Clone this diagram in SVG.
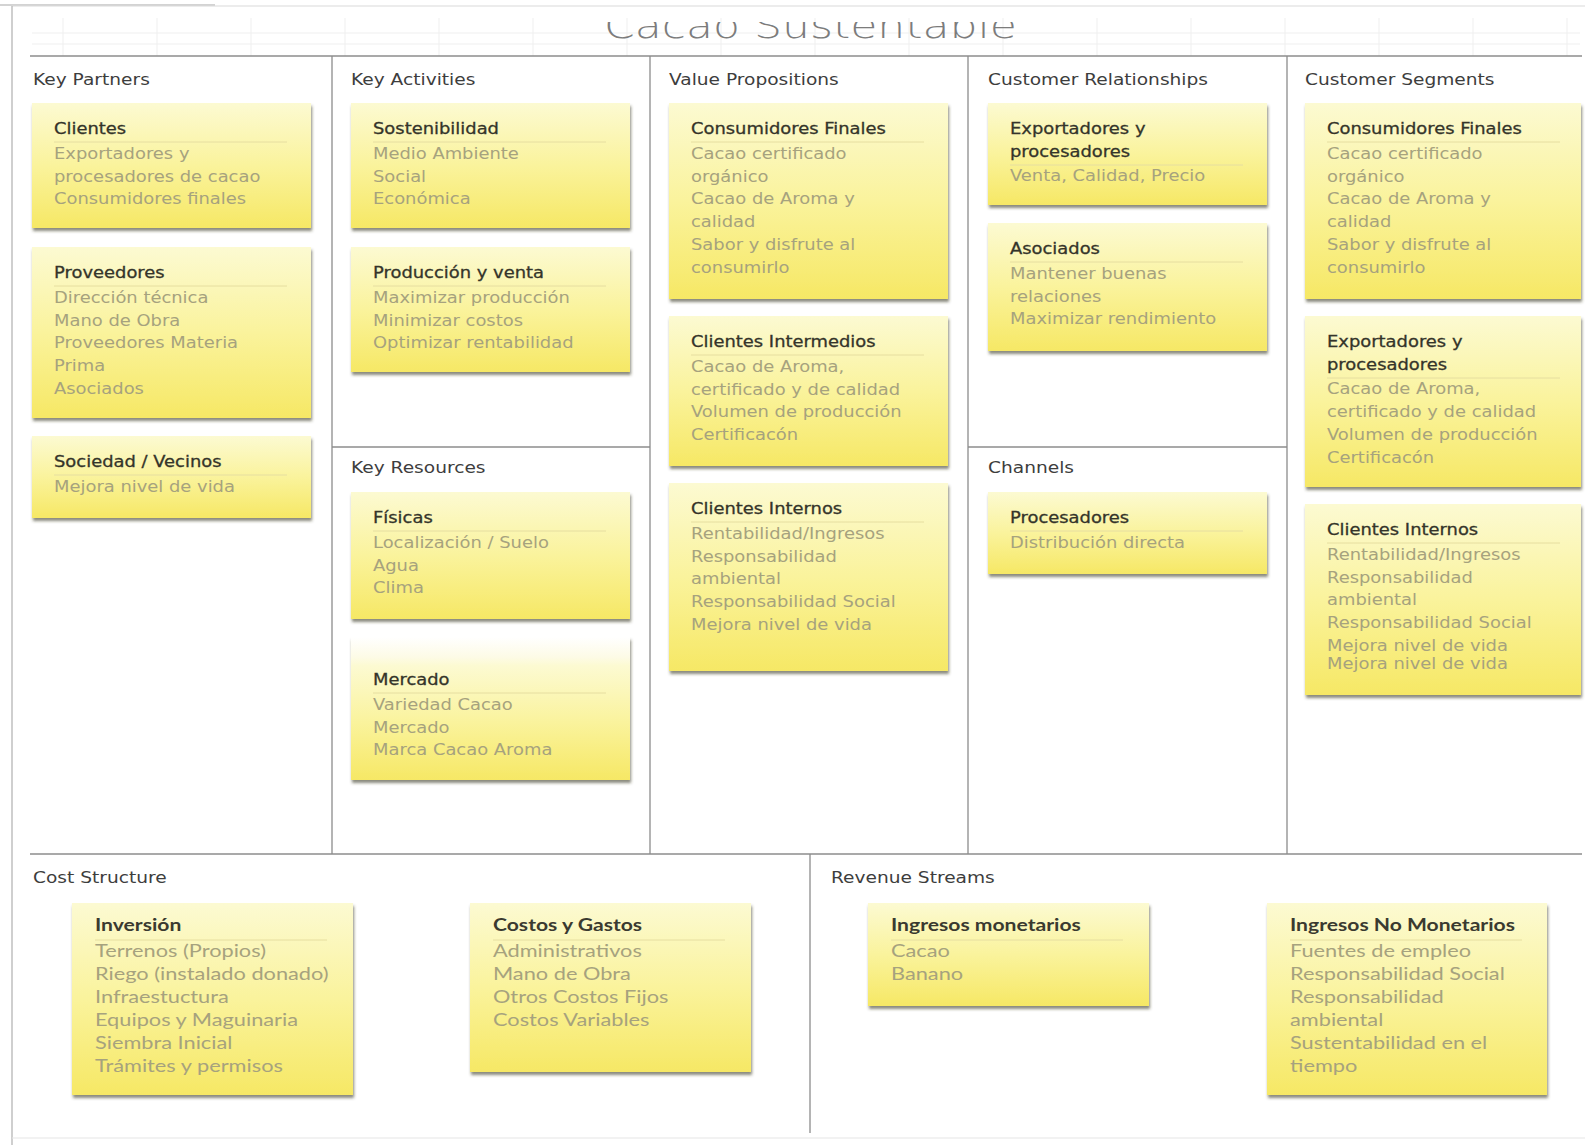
<svg xmlns="http://www.w3.org/2000/svg" width="1585" height="1145" viewBox="0 0 1585 1145">
<defs>
<linearGradient id="gy" x1="0" y1="0" x2="0" y2="1">
<stop offset="0" stop-color="#fcfad2"/>
<stop offset="0.5" stop-color="#faf39c"/>
<stop offset="1" stop-color="#f6e865"/>
</linearGradient>
<linearGradient id="gm" x1="0" y1="0" x2="0" y2="1">
<stop offset="0" stop-color="#ffffff"/>
<stop offset="0.14" stop-color="#fdfbe6"/>
<stop offset="0.2" stop-color="#fcfad2"/>
<stop offset="0.6" stop-color="#faf39c"/>
<stop offset="1" stop-color="#f6e865"/>
</linearGradient>
<filter id="sh" x="-5%" y="-5%" width="110%" height="115%">
<feDropShadow dx="1" dy="3" stdDeviation="1.4" flood-color="#3c3a28" flood-opacity="0.6"/>
</filter>
<clipPath id="tclip"><rect x="0" y="22" width="1585" height="34"/></clipPath>
<style>
.note{fill:url(#gy);filter:url(#sh);}
.sep{stroke:#e6dea0;stroke-width:1;}
.grid{stroke:#8c8c8c;stroke-width:1.3;fill:none;}
.faint{stroke:#efefef;stroke-width:1;fill:none;}
.lbl{font-family:"DejaVu Sans",sans-serif;font-size:15.5px;fill:#3d3d3d;}
.h{font-family:"DejaVu Sans",sans-serif;font-size:16px;fill:#34342a;stroke:#34342a;stroke-width:0.3;}
.b{font-family:"DejaVu Sans",sans-serif;font-size:16px;fill:#a6a27e;}
.hl{font-family:Lato,"Liberation Sans",sans-serif;font-size:16.5px;font-weight:700;fill:#3a3a30;}
.bl{font-family:Lato,"Liberation Sans",sans-serif;font-size:17px;fill:#a6a27e;}
.title{font-family:"DejaVu Sans",sans-serif;font-weight:200;font-size:35px;fill:#7c7c7c;}
</style>
</defs>
<rect width="1585" height="1145" fill="#ffffff"/>

<g id="frame">
<line x1="0" y1="5" x2="215" y2="5" stroke="#c4c4c4" stroke-width="1.5"/>
<line x1="12" y1="6" x2="1585" y2="6" stroke="#dadada" stroke-width="1.2"/>
<line x1="12" y1="6" x2="12" y2="1145" stroke="#b5b5b5" stroke-width="1.3"/>
<line x1="12" y1="1138" x2="1585" y2="1138" stroke="#e6e6e6" stroke-width="1.2"/>
<g class="faint">
<line x1="32" y1="33" x2="1580" y2="33"/>
<line x1="32" y1="44" x2="1580" y2="44"/>
<path d="M63 18V56M157 18V56M251 18V56M345 18V56M439 18V56M533 18V56M627 18V56M721 18V56M815 18V56M909 18V56M1003 18V56M1097 18V56M1191 18V56M1285 18V56M1379 18V56M1473 18V56M1567 18V56"/>
</g>
<g clip-path="url(#tclip)">
<text class="title" x="604" y="38" textLength="413" lengthAdjust="spacingAndGlyphs">Cacao Sustentable</text>
</g>
</g>

<g id="connectors" class="grid">
<line x1="30" y1="56" x2="1582" y2="56"/>
<line x1="30" y1="854" x2="1582" y2="854"/>
<line x1="332" y1="56" x2="332" y2="854"/>
<line x1="650" y1="56" x2="650" y2="854"/>
<line x1="968" y1="56" x2="968" y2="854"/>
<line x1="1287" y1="56" x2="1287" y2="854"/>
<line x1="332" y1="447" x2="650" y2="447"/>
<line x1="968" y1="447" x2="1287" y2="447"/>
<line x1="810" y1="854" x2="810" y2="1133"/>
</g>

<g id="labels">
<text class="lbl" transform="translate(33,85) scale(1.2,1)">Key Partners</text>
<text class="lbl" transform="translate(351,85) scale(1.2,1)">Key Activities</text>
<text class="lbl" transform="translate(669,85) scale(1.2,1)">Value Propositions</text>
<text class="lbl" transform="translate(988,85) scale(1.2,1)">Customer Relationships</text>
<text class="lbl" transform="translate(1305,85) scale(1.2,1)">Customer Segments</text>
<text class="lbl" transform="translate(351,473) scale(1.2,1)">Key Resources</text>
<text class="lbl" transform="translate(988,473) scale(1.2,1)">Channels</text>
<text class="lbl" transform="translate(33,883) scale(1.2,1)">Cost Structure</text>
<text class="lbl" transform="translate(831,883) scale(1.2,1)">Revenue Streams</text>
</g>

<g id="kp-clientes" transform="translate(32,103)">
<rect class="note" width="279" height="125"/>
<line class="sep" x1="22" y1="39" x2="255" y2="39"/>
<g transform="translate(22,0) scale(1.12,1)">
<text class="h" y="31">Clientes</text>
<text class="b"><tspan x="0" y="56">Exportadores y</tspan><tspan x="0" y="79">procesadores de cacao</tspan><tspan x="0" y="101">Consumidores finales</tspan></text>
</g>
</g>

<g id="kp-proveedores" transform="translate(32,247)">
<rect class="note" width="279" height="171"/>
<line class="sep" x1="22" y1="39" x2="255" y2="39"/>
<g transform="translate(22,0) scale(1.12,1)">
<text class="h" y="31">Proveedores</text>
<text class="b"><tspan x="0" y="56">Dirección técnica</tspan><tspan x="0" y="79">Mano de Obra</tspan><tspan x="0" y="101">Proveedores Materia</tspan><tspan x="0" y="124">Prima</tspan><tspan x="0" y="147">Asociados</tspan></text>
</g>
</g>

<g id="kp-sociedad" transform="translate(32,436)">
<rect class="note" width="279" height="82"/>
<line class="sep" x1="22" y1="39" x2="255" y2="39"/>
<g transform="translate(22,0) scale(1.12,1)">
<text class="h" y="31">Sociedad / Vecinos</text>
<text class="b"><tspan x="0" y="56">Mejora nivel de vida</tspan></text>
</g>
</g>

<g id="ka-sostenibilidad" transform="translate(351,103)">
<rect class="note" width="279" height="125"/>
<line class="sep" x1="22" y1="39" x2="255" y2="39"/>
<g transform="translate(22,0) scale(1.12,1)">
<text class="h" y="31">Sostenibilidad</text>
<text class="b"><tspan x="0" y="56">Medio Ambiente</tspan><tspan x="0" y="79">Social</tspan><tspan x="0" y="101">Económica</tspan></text>
</g>
</g>

<g id="ka-produccion" transform="translate(351,247)">
<rect class="note" width="279" height="125"/>
<line class="sep" x1="22" y1="39" x2="255" y2="39"/>
<g transform="translate(22,0) scale(1.12,1)">
<text class="h" y="31">Producción y venta</text>
<text class="b"><tspan x="0" y="56">Maximizar producción</tspan><tspan x="0" y="79">Minimizar costos</tspan><tspan x="0" y="101">Optimizar rentabilidad</tspan></text>
</g>
</g>

<g id="kr-fisicas" transform="translate(351,492)">
<rect class="note" width="279" height="127"/>
<line class="sep" x1="22" y1="39" x2="255" y2="39"/>
<g transform="translate(22,0) scale(1.12,1)">
<text class="h" y="31">Físicas</text>
<text class="b"><tspan x="0" y="56">Localización / Suelo</tspan><tspan x="0" y="79">Agua</tspan><tspan x="0" y="101">Clima</tspan></text>
</g>
</g>

<g id="kr-mercado" transform="translate(351,637)">
<rect class="note" width="279" height="143" style="fill:url(#gm)"/>
<line class="sep" x1="22" y1="56" x2="255" y2="56"/>
<g transform="translate(22,0) scale(1.12,1)">
<text class="h" y="48">Mercado</text>
<text class="b"><tspan x="0" y="73">Variedad Cacao</tspan><tspan x="0" y="96">Mercado</tspan><tspan x="0" y="118">Marca Cacao Aroma</tspan></text>
</g>
</g>

<g id="vp-consumidores" transform="translate(669,103)">
<rect class="note" width="279" height="196"/>
<line class="sep" x1="22" y1="39" x2="255" y2="39"/>
<g transform="translate(22,0) scale(1.12,1)">
<text class="h" y="31">Consumidores Finales</text>
<text class="b"><tspan x="0" y="56">Cacao certificado</tspan><tspan x="0" y="79">orgánico</tspan><tspan x="0" y="101">Cacao de Aroma y</tspan><tspan x="0" y="124">calidad</tspan><tspan x="0" y="147">Sabor y disfrute al</tspan><tspan x="0" y="170">consumirlo</tspan></text>
</g>
</g>

<g id="vp-intermedios" transform="translate(669,316)">
<rect class="note" width="279" height="150"/>
<line class="sep" x1="22" y1="39" x2="255" y2="39"/>
<g transform="translate(22,0) scale(1.12,1)">
<text class="h" y="31">Clientes Intermedios</text>
<text class="b"><tspan x="0" y="56">Cacao de Aroma,</tspan><tspan x="0" y="79">certificado y de calidad</tspan><tspan x="0" y="101">Volumen de producción</tspan><tspan x="0" y="124">Certificacón</tspan></text>
</g>
</g>

<g id="vp-internos" transform="translate(669,483)">
<rect class="note" width="279" height="188"/>
<line class="sep" x1="22" y1="39" x2="255" y2="39"/>
<g transform="translate(22,0) scale(1.12,1)">
<text class="h" y="31">Clientes Internos</text>
<text class="b"><tspan x="0" y="56">Rentabilidad/Ingresos</tspan><tspan x="0" y="79">Responsabilidad</tspan><tspan x="0" y="101">ambiental</tspan><tspan x="0" y="124">Responsabilidad Social</tspan><tspan x="0" y="147">Mejora nivel de vida</tspan></text>
</g>
</g>

<g id="cr-exportadores" transform="translate(988,103)">
<rect class="note" width="279" height="102"/>
<line class="sep" x1="22" y1="62" x2="255" y2="62"/>
<g transform="translate(22,0) scale(1.12,1)">
<text class="h"><tspan x="0" y="31">Exportadores y</tspan><tspan x="0" y="54">procesadores</tspan></text>
<text class="b"><tspan x="0" y="78">Venta, Calidad, Precio</tspan></text>
</g>
</g>

<g id="cr-asociados" transform="translate(988,223)">
<rect class="note" width="279" height="128"/>
<line class="sep" x1="22" y1="39" x2="255" y2="39"/>
<g transform="translate(22,0) scale(1.12,1)">
<text class="h" y="31">Asociados</text>
<text class="b"><tspan x="0" y="56">Mantener buenas</tspan><tspan x="0" y="79">relaciones</tspan><tspan x="0" y="101">Maximizar rendimiento</tspan></text>
</g>
</g>

<g id="ch-procesadores" transform="translate(988,492)">
<rect class="note" width="279" height="82"/>
<line class="sep" x1="22" y1="39" x2="255" y2="39"/>
<g transform="translate(22,0) scale(1.12,1)">
<text class="h" y="31">Procesadores</text>
<text class="b"><tspan x="0" y="56">Distribución directa</tspan></text>
</g>
</g>

<g id="cs-consumidores" transform="translate(1305,103)">
<rect class="note" width="276" height="196"/>
<line class="sep" x1="22" y1="39" x2="255" y2="39"/>
<g transform="translate(22,0) scale(1.12,1)">
<text class="h" y="31">Consumidores Finales</text>
<text class="b"><tspan x="0" y="56">Cacao certificado</tspan><tspan x="0" y="79">orgánico</tspan><tspan x="0" y="101">Cacao de Aroma y</tspan><tspan x="0" y="124">calidad</tspan><tspan x="0" y="147">Sabor y disfrute al</tspan><tspan x="0" y="170">consumirlo</tspan></text>
</g>
</g>

<g id="cs-exportadores" transform="translate(1305,316)">
<rect class="note" width="276" height="171"/>
<line class="sep" x1="22" y1="62" x2="255" y2="62"/>
<g transform="translate(22,0) scale(1.12,1)">
<text class="h"><tspan x="0" y="31">Exportadores y</tspan><tspan x="0" y="54">procesadores</tspan></text>
<text class="b"><tspan x="0" y="78">Cacao de Aroma,</tspan><tspan x="0" y="101">certificado y de calidad</tspan><tspan x="0" y="124">Volumen de producción</tspan><tspan x="0" y="147">Certificacón</tspan></text>
</g>
</g>

<g id="cs-internos" transform="translate(1305,504)">
<rect class="note" width="276" height="191"/>
<line class="sep" x1="22" y1="39" x2="255" y2="39"/>
<g transform="translate(22,0) scale(1.12,1)">
<text class="h" y="31">Clientes Internos</text>
<text class="b"><tspan x="0" y="56">Rentabilidad/Ingresos</tspan><tspan x="0" y="79">Responsabilidad</tspan><tspan x="0" y="101">ambiental</tspan><tspan x="0" y="124">Responsabilidad Social</tspan><tspan x="0" y="147">Mejora nivel de vida</tspan><tspan x="0" y="165">Mejora nivel de vida</tspan></text>
</g>
</g>

<g id="co-inversion" transform="translate(72,903)">
<rect class="note" width="281" height="192"/>
<line class="sep" x1="23" y1="37" x2="255" y2="37"/>
<g transform="translate(23,0) scale(1.28,1)">
<text class="hl" y="28">Inversión</text>
<text class="bl"><tspan x="0" y="54">Terrenos (Propios)</tspan><tspan x="0" y="77">Riego (instalado donado)</tspan><tspan x="0" y="100">Infraestuctura</tspan><tspan x="0" y="123">Equipos y Maguinaria</tspan><tspan x="0" y="146">Siembra Inicial</tspan><tspan x="0" y="169">Trámites y permisos</tspan></text>
</g>
</g>

<g id="co-costos" transform="translate(470,903)">
<rect class="note" width="281" height="169"/>
<line class="sep" x1="23" y1="37" x2="255" y2="37"/>
<g transform="translate(23,0) scale(1.28,1)">
<text class="hl" y="28">Costos y Gastos</text>
<text class="bl"><tspan x="0" y="54">Administrativos</tspan><tspan x="0" y="77">Mano de Obra</tspan><tspan x="0" y="100">Otros Costos Fijos</tspan><tspan x="0" y="123">Costos Variables</tspan></text>
</g>
</g>

<g id="rs-monetarios" transform="translate(868,903)">
<rect class="note" width="281" height="103"/>
<line class="sep" x1="23" y1="37" x2="255" y2="37"/>
<g transform="translate(23,0) scale(1.28,1)">
<text class="hl" y="28">Ingresos monetarios</text>
<text class="bl"><tspan x="0" y="54">Cacao</tspan><tspan x="0" y="77">Banano</tspan></text>
</g>
</g>

<g id="rs-no-monetarios" transform="translate(1267,903)">
<rect class="note" width="280" height="192"/>
<line class="sep" x1="23" y1="37" x2="255" y2="37"/>
<g transform="translate(23,0) scale(1.28,1)">
<text class="hl" y="28">Ingresos No Monetarios</text>
<text class="bl"><tspan x="0" y="54">Fuentes de empleo</tspan><tspan x="0" y="77">Responsabilidad Social</tspan><tspan x="0" y="100">Responsabilidad</tspan><tspan x="0" y="123">ambiental</tspan><tspan x="0" y="146">Sustentabilidad en el</tspan><tspan x="0" y="169">tiempo</tspan></text>
</g>
</g>
</svg>
